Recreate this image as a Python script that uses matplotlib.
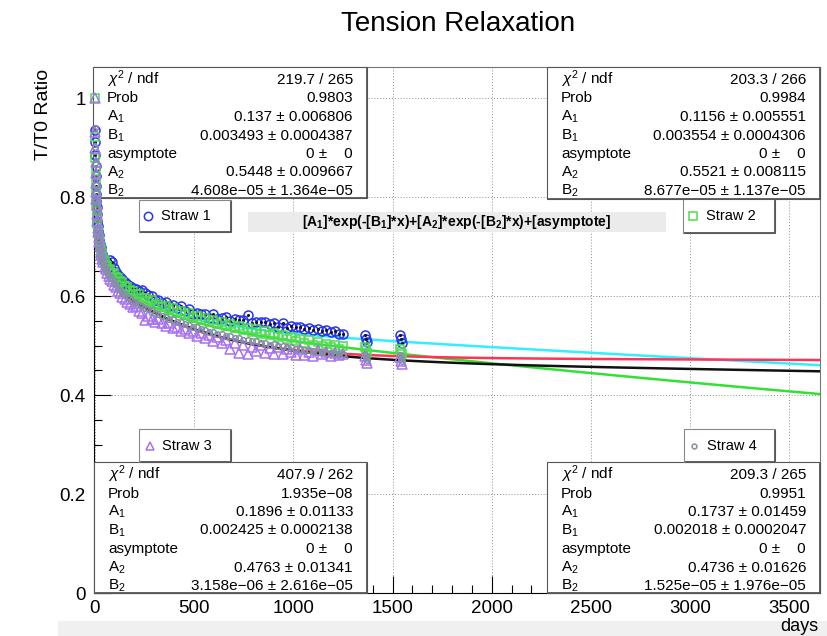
import numpy as np
import matplotlib
matplotlib.use('Agg')
import matplotlib.pyplot as plt
from matplotlib.patches import Rectangle
from matplotlib.lines import Line2D
from matplotlib.ticker import MultipleLocator

plt.rcParams['font.family'] = ['Liberation Sans', 'DejaVu Sans']
plt.rcParams['mathtext.fontset'] = 'custom'
plt.rcParams['mathtext.rm'] = 'Liberation Sans'
plt.rcParams['mathtext.it'] = 'Liberation Sans:italic'
plt.rcParams['mathtext.bf'] = 'Liberation Sans:bold'

# measurement days (same for all straws)
days = [0, 1, 2, 3, 4, 5, 6, 7, 8, 10, 12, 14, 16, 18, 21, 24, 28, 32, 37, 42,
        48, 55, 62, 70, 78, 86, 95, 105, 115, 125, 137, 150, 163, 177, 191, 205, 220, 236, 252, 268,
        285, 302, 320, 338, 356, 375, 394, 413, 432, 452, 472, 492, 512, 533, 554, 575, 596, 617, 638, 660,
        682, 704, 726, 748, 770, 792, 814, 836, 858, 880, 902, 924, 946, 968, 990, 1012, 1034, 1056, 1078, 1100,
        1122, 1144, 1166, 1188, 1210, 1232, 1250, 1360, 1365, 1370, 1540, 1545, 1550]

straw1 = [0.935, 0.912, 0.886, 0.862, 0.842, 0.823, 0.806, 0.792, 0.781, 0.766, 0.752, 0.741, 0.731, 0.723, 0.714, 0.706, 0.699, 0.691, 0.685, 0.679,
          0.673, 0.668, 0.664, 0.661, 0.673, 0.669, 0.656, 0.649, 0.643, 0.638, 0.634, 0.628, 0.625, 0.621, 0.617, 0.614, 0.611, 0.613, 0.607, 0.603,
          0.601, 0.592, 0.593, 0.586, 0.589, 0.581, 0.583, 0.576, 0.579, 0.570, 0.573, 0.564, 0.566, 0.563, 0.563, 0.556, 0.564, 0.554, 0.556, 0.558,
          0.550, 0.553, 0.551, 0.552, 0.562, 0.546, 0.548, 0.547, 0.547, 0.543, 0.545, 0.538, 0.546, 0.536, 0.539, 0.537, 0.537, 0.533, 0.535, 0.532,
          0.534, 0.530, 0.531, 0.527, 0.529, 0.523, 0.524, 0.521, 0.513, 0.507, 0.521, 0.514, 0.506]

straw2 = [1.0, 0.921, 0.879, 0.852, 0.829, 0.811, 0.794, 0.783, 0.771, 0.757, 0.746, 0.734, 0.727, 0.717, 0.711, 0.701, 0.696, 0.687, 0.683, 0.675,
          0.671, 0.663, 0.661, 0.654, 0.653, 0.647, 0.646, 0.639, 0.637, 0.630, 0.628, 0.621, 0.619, 0.612, 0.611, 0.604, 0.604, 0.597, 0.597, 0.591,
          0.592, 0.583, 0.585, 0.577, 0.580, 0.571, 0.575, 0.566, 0.570, 0.561, 0.565, 0.556, 0.560, 0.551, 0.556, 0.547, 0.551, 0.543, 0.548, 0.539,
          0.544, 0.535, 0.540, 0.531, 0.536, 0.528, 0.533, 0.524, 0.529, 0.521, 0.525, 0.518, 0.521, 0.514, 0.517, 0.509, 0.514, 0.505, 0.511, 0.502,
          0.507, 0.499, 0.504, 0.497, 0.501, 0.494, 0.499, 0.497, 0.491, 0.486, 0.494, 0.488, 0.483]

straw3 = [1.0, 0.931, 0.899, 0.871, 0.848, 0.829, 0.811, 0.796, 0.784, 0.766, 0.751, 0.738, 0.729, 0.719, 0.709, 0.701, 0.689, 0.683, 0.674, 0.669,
          0.659, 0.654, 0.646, 0.641, 0.634, 0.631, 0.623, 0.619, 0.611, 0.607, 0.599, 0.595, 0.589, 0.585, 0.577, 0.580, 0.570, 0.565, 0.552, 0.560,
          0.554, 0.548, 0.553, 0.545, 0.540, 0.546, 0.535, 0.538, 0.530, 0.534, 0.525, 0.529, 0.520, 0.526, 0.515, 0.521, 0.510, 0.517, 0.505, 0.512,
          0.494, 0.506, 0.486, 0.501, 0.483, 0.498, 0.490, 0.501, 0.485, 0.496, 0.484, 0.498, 0.482, 0.493, 0.487, 0.480, 0.493, 0.481, 0.488, 0.478,
          0.492, 0.484, 0.488, 0.479, 0.486, 0.481, 0.484, 0.478, 0.470, 0.465, 0.476, 0.468, 0.463]

straw4 = [0.94, 0.902, 0.869, 0.846, 0.824, 0.809, 0.792, 0.781, 0.769, 0.753, 0.737, 0.728, 0.717, 0.711, 0.699, 0.693, 0.683, 0.678, 0.669, 0.665,
          0.657, 0.653, 0.646, 0.643, 0.636, 0.634, 0.627, 0.623, 0.615, 0.613, 0.606, 0.604, 0.598, 0.596, 0.589, 0.588, 0.582, 0.581, 0.576, 0.574,
          0.571, 0.566, 0.564, 0.559, 0.558, 0.554, 0.553, 0.548, 0.547, 0.543, 0.542, 0.537, 0.537, 0.533, 0.532, 0.528, 0.528, 0.524, 0.524, 0.520,
          0.520, 0.515, 0.516, 0.512, 0.512, 0.509, 0.509, 0.505, 0.506, 0.502, 0.503, 0.499, 0.500, 0.497, 0.497, 0.494, 0.494, 0.491, 0.492, 0.489,
          0.488, 0.488, 0.485, 0.486, 0.483, 0.484, 0.482, 0.482, 0.476, 0.470, 0.480, 0.474, 0.468]

# fit results  [A1]*exp(-[B1]*x)+[A2]*exp(-[B2]*x)+[asymptote]
fit_A1 = [0.137, 0.1156, 0.1896, 0.1737]
fit_B1 = [0.003493, 0.003554, 0.002425, 0.002018]
fit_A2 = [0.5448, 0.5521, 0.4763, 0.4736]
fit_B2 = [4.608e-05, 8.677e-05, 3.158e-06, 1.525e-05]
fit_asym = [0, 0, 0, 0]
fit_range = (120, 3650)

stat_names = [r'$\chi^2$ / ndf', 'Prob', 'A$_1$', 'B$_1$', 'asymptote', 'A$_2$', 'B$_2$']
stat_values = [
    ['219.7 / 265', '0.9803', '0.137 ± 0.006806', '0.003493 ± 0.0004387', '0 ±    0',
     '0.5448 ± 0.009667', '4.608e\u221205 ± 1.364e\u221205'],
    ['203.3 / 266', '0.9984', '0.1156 ± 0.005551', '0.003554 ± 0.0004306', '0 ±    0',
     '0.5521 ± 0.008115', '8.677e\u221205 ± 1.137e\u221205'],
    ['407.9 / 262', '1.935e\u221208', '0.1896 ± 0.01133', '0.002425 ± 0.0002138', '0 ±    0',
     '0.4763 ± 0.01341', '3.158e\u221206 ± 2.616e\u221205'],
    ['209.3 / 265', '0.9951', '0.1737 ± 0.01459', '0.002018 ± 0.0002047', '0 ±    0',
     '0.4736 ± 0.01626', '1.525e\u221205 ± 1.976e\u221205'],
]

labels = ['Straw 1', 'Straw 2', 'Straw 3', 'Straw 4']
series = [straw1, straw2, straw3, straw4]
markers = ['o', 's', '^', 'o']
msizes = [6.5, 5.5, 6.5, 4]
mcolors = ['#2a35ee', '#4edc4e', '#a772ee', '#8391a3']
fitcolors = ['#33eeff', '#33e033', '#ff3355', '#111111']

W, H = 827, 636
def fx(x):
    return x / W
def fy(y):
    return 1 - y / H

fig = plt.figure(figsize=(W / 100, H / 100), dpi=100)
ax = fig.add_axes([fx(94), fy(593), 726 / W, 526 / H])
tf = fig.transFigure

xf = np.linspace(fit_range[0], fit_range[1], 100)
for i in range(4):
    yf = fit_A1[i] * np.exp(-fit_B1[i] * xf) + fit_A2[i] * np.exp(-fit_B2[i] * xf) + fit_asym[i]
    ax.plot(xf, yf, color=fitcolors[i], lw=1.8, zorder=2.7 + 0.01 * i)
    ax.plot(days, series[i], ls='none', marker=markers[i], ms=msizes[i], mfc='none',
            mec=mcolors[i], mew=1.1, zorder=3 + 0.01 * i, clip_on=False)
    if i == 0:
        ax.plot(days, series[i], ls='none', marker='.', ms=2.5, color='#111133', zorder=3, clip_on=False)

ax.set_xlim(-5, 3655)
ax.set_ylim(0, 1.063)
ax.set_xticks(np.arange(0, 3501, 500))
ax.set_xticklabels([str(v) for v in range(0, 3501, 500)])
ax.set_yticks([0, 0.2, 0.4, 0.6, 0.8, 1.0])
ax.set_yticklabels(['0', '0.2', '0.4', '0.6', '0.8', '1'])
ax.xaxis.set_minor_locator(MultipleLocator(100))
ax.yaxis.set_minor_locator(MultipleLocator(0.05))
ax.tick_params(which='major', direction='in', length=12, width=0.8, labelsize=13.5)
ax.tick_params(which='minor', direction='in', length=6, width=0.8)
ax.tick_params(axis='y', pad=6)
ax.tick_params(axis='x', pad=5)
ax.grid(True, which='major', color='#8c8c8c', ls=(0, (1, 2)), lw=0.7)
ax.set_axisbelow(True)
for s in ['top', 'right']:
    ax.spines[s].set_color('#777777')

fig.text(fx(458), fy(24), 'Tension Relaxation', ha='center', va='center', fontsize=20)
fig.text(fx(44), fy(69), 'T/T0 Ratio', rotation=90, ha='center', va='top', fontsize=14)
fig.text(fx(818), fy(631), 'days', ha='right', va='baseline', fontsize=13)

# grey strip under the canvas
fig.add_artist(Rectangle((fx(58), 0), 1, (H - 621) / H, transform=tf,
                         facecolor='#f0f0f0', edgecolor='none', zorder=0))


def pave(x0, y0, x1, y1, face='white', edge='#555555'):
    ax.add_artist(Rectangle((fx(x0), fy(y1)), (x1 - x0) / W, (y1 - y0) / H,
                            transform=tf, facecolor=face, edgecolor=edge, lw=0.8,
                            zorder=2.55, clip_on=False))
    ax.add_artist(Line2D([fx(x0 + 2), fx(x1), fx(x1)], [fy(y1), fy(y1), fy(y0 + 2)],
                         transform=tf, color='#555555', lw=1.3, zorder=2.56, clip_on=False))


# stats boxes
stat_boxes = [(93, 67, 367, 198), (547, 67, 820, 199), (94, 462, 367, 593), (547, 462, 820, 593)]
for (x0, y0, x1, y1), vals in zip(stat_boxes, stat_values):
    pave(x0, y0, x1, y1)
    for j in range(7):
        yb = y0 + 17 + 18.5 * j
        ax.text(fx(x0 + 14), fy(yb), stat_names[j], transform=tf, ha='left', va='baseline',
                fontsize=11, zorder=2.6, clip_on=False)
        ax.text(fx(x1 - 14), fy(yb), vals[j], transform=tf, ha='right', va='baseline',
                fontsize=11, zorder=2.6, clip_on=False)

# legend boxes
leg_boxes = [(139, 200, 231, 232), (683, 199, 775, 233), (139, 429, 231, 462), (684, 429, 775, 462)]
leg_mark_x = [148, 693, 150, 694]
leg_text_x = [161, 706, 162, 707]
leg_ms = [6, 6, 6, 3.5]
for i, (x0, y0, x1, y1) in enumerate(leg_boxes):
    pave(x0, y0, x1, y1, edge='#888888')
    yc = (y0 + y1) / 2
    ax.add_artist(Line2D([fx(leg_mark_x[i])], [fy(yc)], transform=tf, ls='none',
                         marker=markers[i], ms=leg_ms[i], mfc='none', mec=mcolors[i],
                         mew=1.1, zorder=2.6, clip_on=False))
    ax.text(fx(leg_text_x[i]), fy(yc), labels[i], transform=tf, ha='left', va='center',
            fontsize=10.5, zorder=2.6, clip_on=False)

# fit formula
ax.add_artist(Rectangle((fx(248), fy(232)), (666 - 248) / W, 20 / H, transform=tf,
                        facecolor='#ebebeb', edgecolor='none', zorder=2.55, clip_on=False))
ax.text(fx(457), fy(222),
        r'[A$_\mathbf{1}$]*exp(-[B$_\mathbf{1}$]*x)+[A$_\mathbf{2}$]*exp(-[B$_\mathbf{2}$]*x)+[asymptote]',
        transform=tf, ha='center', va='center', fontsize=10, fontweight='bold', zorder=2.6)

fig.savefig('out.png', dpi=100)
